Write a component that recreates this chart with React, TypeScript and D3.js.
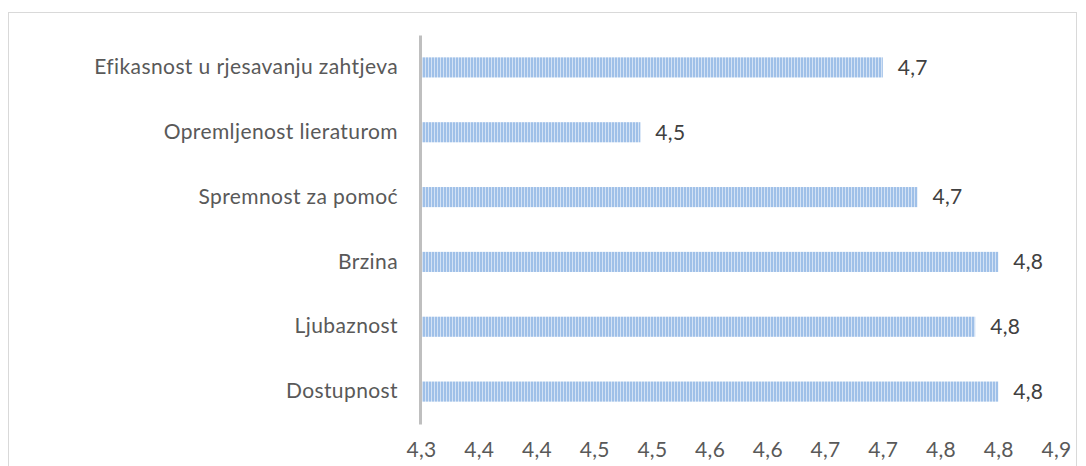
import React, { useEffect, useRef } from "react";
import * as d3 from "d3";

const categories = [
  "Efikasnost u rjesavanju zahtjeva",
  "Opremljenost lieraturom",
  "Spremnost za pomoć",
  "Brzina",
  "Ljubaznost",
  "Dostupnost",
];
const values = [4.7, 4.49, 4.73, 4.8, 4.78, 4.8];
const tickValues = [4.3, 4.35, 4.4, 4.45, 4.5, 4.55, 4.6, 4.65, 4.7, 4.75, 4.8, 4.85];
const tickLabels = ["4,3", "4,4", "4,4", "4,5", "4,5", "4,6", "4,6", "4,7", "4,7", "4,8", "4,8", "4,9"];

const width = 1086;
const height = 466;
const font = "Lato, 'Open Sans', sans-serif";

export default function App() {
  const ref = useRef<SVGSVGElement>(null);

  useEffect(() => {
    const svg = d3.select(ref.current);
    svg.selectAll("*").remove();

    const data = categories.map((c, i) => ({ name: c, value: values[i] }));

    const x = d3.scaleLinear().domain([4.3, 4.85]).range([421, 1056]);
    const y = d3
      .scaleBand()
      .domain(categories)
      .range([35, 424])
      .paddingInner(0.69)
      .paddingOuter(0.345);

    // striped fill like the excel pattern
    const pat = svg
      .append("defs")
      .append("pattern")
      .attr("id", "stripes")
      .attr("patternUnits", "userSpaceOnUse")
      .attr("width", 3)
      .attr("height", 10);
    pat.append("rect").attr("width", 3).attr("height", 10).attr("fill", "#d3e2f5");
    pat.append("rect").attr("width", 2).attr("height", 10).attr("fill", "#9fc0e8");

    // outer frame
    svg
      .append("rect")
      .attr("x", 8.5)
      .attr("y", 12.5)
      .attr("width", 1068)
      .attr("height", 470)
      .attr("fill", "none")
      .attr("stroke", "#d9d9d9");

    svg
      .append("g")
      .selectAll("rect")
      .data(data)
      .enter()
      .append("rect")
      .attr("x", x(4.3) + 1)
      .attr("y", (d) => y(d.name)!)
      .attr("width", (d) => x(d.value) - x(4.3) - 1)
      .attr("height", y.bandwidth())
      .attr("fill", "url(#stripes)");

    // value labels
    svg
      .append("g")
      .attr("font-family", font)
      .attr("font-size", 21)
      .attr("letter-spacing", 0.3)
      .attr("fill", "#404040")
      .selectAll("text")
      .data(data)
      .enter()
      .append("text")
      .attr("x", (d) => x(d.value) + 15)
      .attr("y", (d) => y(d.name)! + y.bandwidth() / 2)
      .attr("dy", "0.35em")
      .text((d) => (Math.round(d.value * 10) / 10).toFixed(1).replace(".", ","));

    // category axis
    const yAxis = d3.axisLeft(y).tickSize(0).tickPadding(22);
    const gy = svg.append("g").attr("transform", `translate(${x(4.3) - 1},0)`).call(yAxis);
    gy.select(".domain").attr("stroke", "#bfbfbf").attr("stroke-width", 3);
    gy.selectAll("text")
      .attr("font-family", font)
      .attr("font-size", 21)
      .attr("letter-spacing", 0.4)
      .attr("fill", "#595959");

    // value axis (no line, just labels)
    const xAxis = d3
      .axisBottom(x)
      .tickValues(tickValues)
      .tickFormat((_, i) => tickLabels[i])
      .tickSize(0)
      .tickPadding(0);
    const gx = svg.append("g").attr("transform", "translate(0,442)").call(xAxis);
    gx.select(".domain").remove();
    gx.selectAll("text")
      .attr("font-family", font)
      .attr("font-size", 21)
      .attr("letter-spacing", 0.3)
      .attr("fill", "#595959");
  }, []);

  return (
    <svg
      ref={ref}
      width={width}
      height={height}
      style={{ position: "absolute", left: 0, top: 0, background: "#fff" }}
    />
  );
}
